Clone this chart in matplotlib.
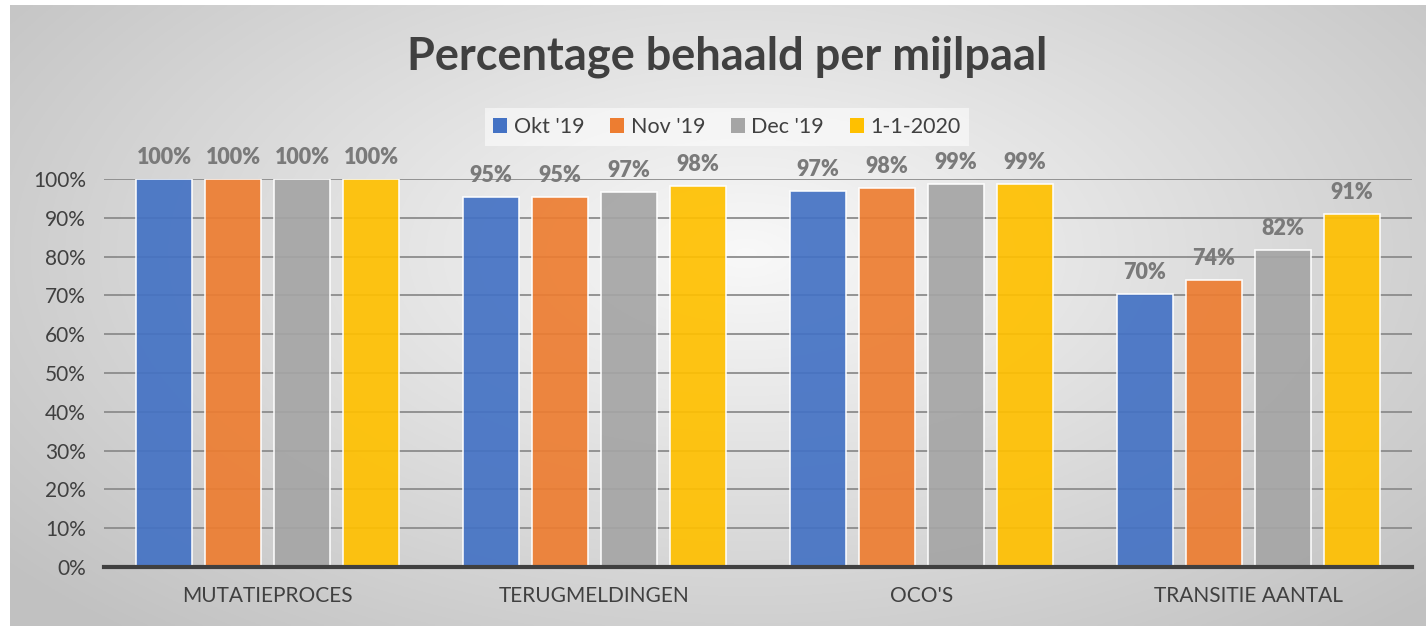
import matplotlib.pyplot as plt
from matplotlib.patches import Patch
import numpy as np

plt.rcParams['font.family'] = ['Lato', 'DejaVu Sans']

categories = ['MUTATIEPROCES', 'TERUGMELDINGEN', "OCO'S", 'TRANSITIE AANTAL']
series_names = ["Okt '19", "Nov '19", "Dec '19", '1-1-2020']
okt_19 = [1.000, 0.954, 0.969, 0.704]
nov_19 = [1.000, 0.953, 0.977, 0.740]
dec_19 = [1.000, 0.966, 0.987, 0.816]
jan_2020 = [1.000, 0.982, 0.987, 0.910]
yticks = [0, 0.1, 0.2, 0.3, 0.4, 0.5, 0.6, 0.7, 0.8, 0.9, 1.0]

colors = ['#4472C4', '#ED7D31', '#A5A5A5', '#FFC000']
txt_dark = '#404040'
lbl_grey = '#7a7a7a'

W, H = 1426, 626
fig = plt.figure(figsize=(W / 100, H / 100), dpi=100)
fig.patch.set_facecolor('white')

# radial gradient background of the chart area
bg = fig.add_axes([10 / W, 0, (W - 10) / W, (H - 5) / H])
yy, xx = np.mgrid[0:1:300j, 0:1:600j]
r = np.sqrt(((xx - 0.52) / 0.62) ** 2 + ((yy - 0.40) / 0.75) ** 2)
shade = np.clip(0.975 - 0.2 * r, 0.76, 0.98)
bg.imshow(np.dstack([shade] * 3), aspect='auto', extent=(0, 1, 0, 1), origin='upper')
bg.set_axis_off()

ax = fig.add_axes([104 / W, 59 / H, 1308 / W, 388 / H])
ax.patch.set_alpha(0)

series = [okt_19, nov_19, dec_19, jan_2020]
x = np.arange(len(categories))
step = 0.211
width = 0.172
for i, (vals, name, c) in enumerate(zip(series, series_names, colors)):
    pos = x + (i - 1.5) * step
    ax.bar(pos, vals, width=width, color=c, alpha=0.92, edgecolor='white',
           linewidth=1.2, zorder=3, label=name)
    for xp, v in zip(pos, vals):
        ax.annotate(f'{v * 100:.0f}%', (xp, v), xytext=(0, 8), textcoords='offset points',
                    ha='center', va='bottom', fontsize=15.5, fontweight='heavy', color=lbl_grey)

ax.set_xlim(-0.5, len(categories) - 0.5)
ax.set_ylim(0, 1.0)
ax.set_yticks(yticks)
ax.set_yticklabels([f'{t * 100:.0f}%' for t in yticks])
ax.set_xticks(x)
ax.set_xticklabels(categories)
ax.tick_params(axis='both', length=0, labelsize=15, colors=txt_dark)
ax.tick_params(axis='y', pad=13)
ax.tick_params(axis='x', pad=14)
ax.yaxis.grid(True, color='#8c8c8c', linewidth=1.3, zorder=1)
ax.set_axisbelow(True)
for side in ['top', 'left', 'right']:
    ax.spines[side].set_visible(False)
ax.spines['bottom'].set_color(txt_dark)
ax.spines['bottom'].set_linewidth(3)
ax.spines['bottom'].set_zorder(4)

fig.text(727 / W, 1 - 57 / H, 'Percentage behaald per mijlpaal', ha='center', va='center',
         fontsize=32.5, fontweight='bold', color=txt_dark)

handles = [Patch(facecolor=c, edgecolor='none') for c in colors]
leg = fig.legend(handles, series_names, loc='center', bbox_to_anchor=(727 / W, 1 - 127 / H),
                 ncol=4, fontsize=15.5, frameon=True, handlelength=0.65, handleheight=0.65,
                 handletextpad=0.3, columnspacing=1.2, borderpad=0.4)
leg.get_frame().set_facecolor('white')
leg.get_frame().set_alpha(0.55)
leg.get_frame().set_edgecolor('none')
leg.get_frame().set_boxstyle('square', pad=0)
for t in leg.get_texts():
    t.set_color(txt_dark)

fig.savefig('out.png', dpi=100)
